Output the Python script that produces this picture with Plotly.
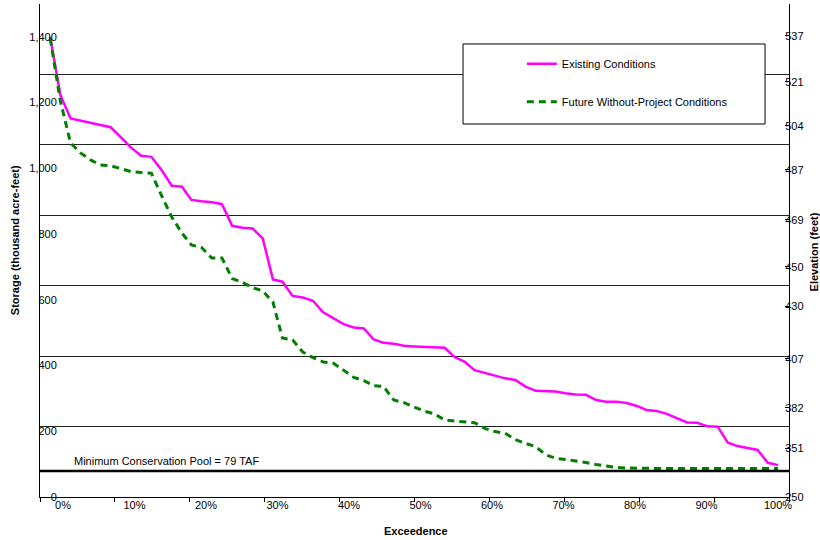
import plotly.graph_objects as go

# Exceedance (%) for each ranked value
exceedance = [0.0, 1.4, 2.8, 4.2, 5.6, 6.9, 8.3, 9.7, 11.1, 12.5,
              13.9, 15.3, 16.7, 18.1, 19.4, 20.8, 22.2, 23.6, 25.0, 26.4,
              27.8, 29.2, 30.6, 31.9, 33.3, 34.7, 36.1, 37.5, 38.9, 40.3,
              41.7, 43.1, 44.4, 45.8, 47.2, 48.6, 50.0, 51.4, 52.8, 54.2,
              55.6, 56.9, 58.3, 59.7, 61.1, 62.5, 63.9, 65.3, 66.7, 68.1,
              69.4, 70.8, 72.2, 73.6, 75.0, 76.4, 77.8, 79.2, 80.6, 81.9,
              83.3, 84.7, 86.1, 87.5, 88.9, 90.3, 91.7, 93.1, 94.4, 95.8,
              97.2, 98.6, 100.0]

# Storage (thousand acre-feet)
existing = [1400, 1223, 1152, 1145, 1138, 1131, 1125, 1095, 1063, 1038,
            1035, 995, 947, 944, 904, 900, 897, 891, 825, 819,
            817, 787, 662, 655, 612, 607, 597, 562, 544, 526,
            516, 513, 480, 469, 466, 460, 458, 457, 455, 454,
            425, 412, 386, 378, 368, 361, 356, 336, 323, 323,
            321, 316, 312, 311, 295, 290, 290, 286, 277, 265,
            262, 253, 239, 227, 226, 215, 214, 165, 155, 148,
            143, 104, 97]

future = [1395, 1205, 1077, 1046, 1025, 1010, 1008, 999, 990, 987,
          985, 917, 852, 803, 767, 759, 727, 727, 665, 653,
          637, 627, 593, 484, 478, 441, 424, 411, 407, 386,
          364, 354, 339, 336, 295, 287, 273, 261, 253, 234,
          231, 229, 226, 209, 199, 194, 175, 163, 153, 128,
          118, 114, 110, 105, 99, 94, 90, 88, 87, 87,
          87, 87, 87, 87, 87, 87, 87, 87, 87, 87,
          87, 87, 87]

min_pool = 79
min_pool_label = "Minimum Conservation Pool = 79 TAF"

storage_ticks = [0, 200, 400, 600, 800, 1000, 1200, 1400]
x_ticks = [0, 10, 20, 30, 40, 50, 60, 70, 80, 90, 100]
x_ticktext = ["0%", "10%", "20%", "30%", "40%", "50%", "60%", "70%", "80%", "90%", "100%"]

# Elevation (feet) labels and the storage they correspond to
elev_labels = ["537", "521", "504", "487", "469", "450", "430", "407", "382", "351", "250"]
elev_storage = [1403, 1263, 1129, 995, 843, 700, 581, 420, 271, 149, 0]

FONT = "Liberation Sans, Arial, sans-serif"

fig = go.Figure()
fig.add_trace(go.Scatter(
    x=exceedance, y=existing, mode="lines", name="Existing Conditions",
    legendgroup="a", line=dict(color="#FF00FF", width=2.5)))
fig.add_trace(go.Scatter(
    x=exceedance, y=future, mode="lines", name="Future Without-Project Conditions",
    legendgroup="b", line=dict(color="#008000", width=3, dash="7px,5px")))

# dummy traces to activate overlay axes
fig.add_trace(go.Scatter(x=[None], y=[None], xaxis="x2", yaxis="y", showlegend=False, hoverinfo="skip"))
fig.add_trace(go.Scatter(x=[None], y=[None], xaxis="x3", yaxis="y", showlegend=False, hoverinfo="skip"))
fig.add_trace(go.Scatter(x=[None], y=[None], xaxis="x", yaxis="y2", showlegend=False, hoverinfo="skip"))
fig.add_trace(go.Scatter(x=[None], y=[None], xaxis="x", yaxis="y3", showlegend=False, hoverinfo="skip"))

# Minimum conservation pool line
fig.add_shape(type="line", xref="paper", x0=0, x1=1, yref="y", y0=min_pool, y1=min_pool,
              line=dict(color="black", width=2.5), layer="above")
fig.add_annotation(text=min_pool_label, xref="paper", x=0.0427, xanchor="left",
                   yref="y", y=min_pool, yanchor="bottom", yshift=2, showarrow=False,
                   font=dict(size=11, color="black", family=FONT))

# Legend box
fig.add_shape(type="rect", xref="paper", yref="paper", x0=0.5648, x1=0.968, y0=0.7566, y1=0.9189,
              line=dict(color="black", width=1), fillcolor="white", layer="above")

# Axis titles
fig.add_annotation(text="<b>Storage (thousand acre-feet)</b>", xref="paper", yref="paper",
                   x=-0.0334, y=0.521, xanchor="center", yanchor="middle", textangle=-90,
                   showarrow=False, font=dict(size=11, color="black", family=FONT))
fig.add_annotation(text="<b>Elevation (feet)</b>", xref="paper", yref="paper",
                   x=1.034, y=0.497, xanchor="center", yanchor="middle", textangle=-90,
                   showarrow=False, font=dict(size=11, color="black", family=FONT))
fig.add_annotation(text="<b>Exceedence</b>", xref="paper", yref="paper",
                   x=0.502, y=-0.069, xanchor="center", yanchor="middle",
                   showarrow=False, font=dict(size=11, color="black", family=FONT))

fig.update_layout(
    width=820, height=540,
    margin=dict(l=40, r=31, t=4, b=43, autoexpand=False),
    paper_bgcolor="white", plot_bgcolor="white",
    font=dict(family=FONT, size=11, color="black"),
    showlegend=True,
    legend=dict(x=0.6433, y=0.908, xanchor="left", yanchor="top",
                bgcolor="rgba(0,0,0,0)", borderwidth=0,
                traceorder="grouped", tracegroupgap=19,
                font=dict(size=11, family=FONT, color="black")),
    # data axis
    xaxis=dict(range=[-1.4, 101.5], showticklabels=False,
               ticks="", showgrid=False, zeroline=False, showline=True,
               linecolor="black", linewidth=1, automargin=False),
    # tick marks dividing the axis into ten equal parts
    xaxis2=dict(range=[0, 10], dtick=1, overlaying="x", anchor="y", side="bottom",
                ticks="outside", ticklen=4, tickcolor="black", showticklabels=False,
                showgrid=False, zeroline=False, showline=False, automargin=False),
    # percentage labels (placed as in the original chart)
    xaxis3=dict(range=[-3.22, 101.54], overlaying="x", anchor="y", side="bottom",
                tickvals=x_ticks, ticktext=x_ticktext, ticks="",
                showgrid=False, zeroline=False, showline=False, automargin=False,
                tickfont=dict(size=11)),
    yaxis=dict(range=[0, 1500], tickvals=storage_ticks, tickformat=",",
               ticks="", showgrid=False, zeroline=False, showline=True,
               linecolor="black", linewidth=1, ticklabelstandoff=-20, automargin=False,
               tickfont=dict(size=11)),
    yaxis2=dict(range=[0, 1500], overlaying="y", side="right", anchor="x",
                tickvals=elev_storage, ticktext=elev_labels,
                ticks="inside", ticklen=4, tickcolor="black",
                showgrid=False, zeroline=False, showline=True,
                linecolor="black", linewidth=1, ticklabelstandoff=-7, automargin=False,
                tickfont=dict(size=11)),
    yaxis3=dict(range=[0, 7], dtick=1, overlaying="y", side="left", anchor="x",
                showticklabels=False, ticks="", showgrid=True, automargin=False,
                gridcolor="#222222", gridwidth=1, zeroline=False, showline=False),
)

fig.write_html("out.html", config={"displayModeBar": False},
               post_script="document.body.style.margin='0';")
